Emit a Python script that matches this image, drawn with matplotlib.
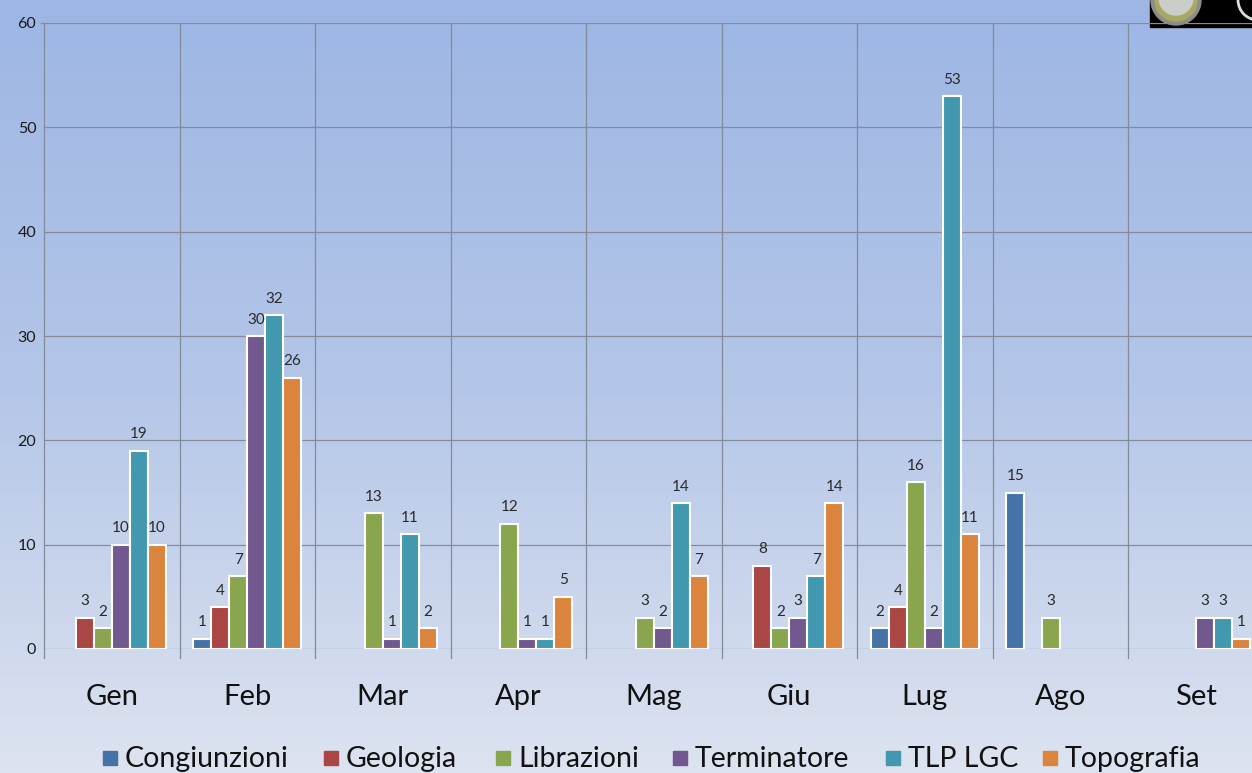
import numpy as np
import matplotlib
matplotlib.use("Agg")
import matplotlib.pyplot as plt
from matplotlib.patches import Rectangle, Ellipse
from matplotlib.colors import LinearSegmentedColormap

months = ["Gen", "Feb", "Mar", "Apr", "Mag", "Giu", "Lug", "Ago", "Set"]
series_names = ["Congiunzioni", "Geologia", "Librazioni", "Terminatore", "TLP LGC", "Topografia"]
congiunzioni = [0, 1, 0, 0, 0, 0, 2, 15, 0]
geologia     = [3, 4, 0, 0, 0, 8, 4, 0, 0]
librazioni   = [2, 7, 13, 12, 3, 2, 16, 3, 0]
terminatore  = [10, 30, 1, 1, 2, 3, 2, 0, 3]
tlp_lgc      = [19, 32, 11, 1, 14, 7, 53, 0, 3]
topografia   = [10, 26, 2, 5, 7, 14, 11, 0, 1]
colors = ["#4572A7", "#AA4643", "#89A54E", "#71588F", "#4198AF", "#DB843D"]
yticks = [0, 10, 20, 30, 40, 50, 60]

series = [congiunzioni, geologia, librazioni, terminatore, tlp_lgc, topografia]

W, H = 1252, 773
fig = plt.figure(figsize=(W / 100, H / 100), dpi=100)

# gradient background (pixel coordinates)
bg = fig.add_axes([0, 0, 1, 1], zorder=-10)
cmap = LinearSegmentedColormap.from_list("bg", ["#9DB6E4", "#B4C6E8", "#DDE3F0"])
grad = np.linspace(0, 1, 256).reshape(-1, 1)
bg.imshow(grad, aspect="auto", cmap=cmap, extent=[0, W, H, 0])
bg.set_xlim(0, W); bg.set_ylim(H, 0)
bg.axis("off")

# logo approximation (top right)
bg.add_patch(Rectangle((1150, 0), W - 1150, 27, color="black", zorder=2))
bg.add_patch(Ellipse((1176, 0), 50, 50, color="#8E8E88", zorder=3))
bg.add_patch(Ellipse((1176, 0), 42, 42, color="#A9A862", zorder=3))
bg.add_patch(Ellipse((1176, -2), 34, 34, color="#CBCDC8", zorder=4))
bg.add_patch(Ellipse((1258, 0), 40, 40, facecolor="black", edgecolor="#DDDDDD", lw=2, zorder=3))
bg.add_patch(Rectangle((1150, 27), W - 1150, 30, color="none", zorder=2))
bg.set_xlim(0, W); bg.set_ylim(H, 0)

# main axes: left edge x=44, y0 at 649, y60 at 23, category width 135.5
left_px, cat_w = 44, 135.5
ncat = len(months)
right_px = left_px + cat_w * ncat
y0_px, y60_px = 649, 23
ax = fig.add_axes([left_px / W, 1 - y0_px / H, (right_px - left_px) / W, (y0_px - y60_px) / H])
ax.set_facecolor("none")
ax.set_xlim(0, ncat)
ax.set_ylim(0, 60)

x = np.arange(ncat) + 0.5
bw = 18 / cat_w
for i, (vals, c) in enumerate(zip(series, colors)):
    offs = (i - 2.5) * bw
    v = np.array(vals, dtype=float)
    mask = v > 0
    ax.bar(x[mask] + offs, v[mask], width=bw, color=c, edgecolor="white", linewidth=1.5, zorder=3)
    for xi, vi in zip(x[mask] + offs, v[mask]):
        ax.text(xi, vi + 0.9, f"{int(vi)}", ha="center", va="bottom", fontsize=11,
                color="#2A2A2A", family="Lato", zorder=4)

# grid
for yt in yticks:
    ax.axhline(yt, color="#838B98", lw=0.9, zorder=1)
for k in range(ncat + 1):
    ax.plot([k, k], [-0.9, 60], color="#838B98", lw=0.9, zorder=1, clip_on=False)
ax.plot([-0.02, 0], [60, 60], color="#838B98", lw=0.9, clip_on=False)

for s in ax.spines.values():
    s.set_visible(False)
ax.set_xticks([])
ax.set_yticks(yticks)
ax.set_yticklabels([str(t) for t in yticks], fontsize=11.5, color="#1A1A1A", family="Lato")
ax.tick_params(axis="y", length=0, pad=5.5)

for xi, m in zip(x, months):
    ax.text(xi, -4.6, m, ha="center", va="center", fontsize=21, color="#111111",
            family="Lato", clip_on=False)

# legend
leg_items = [(103, "Congiunzioni"), (324, "Geologia"), (496, "Librazioni"),
             (673, "Terminatore"), (886, "TLP LGC"), (1043, "Topografia")]
for (px, name), c in zip(leg_items, colors):
    bg.add_patch(Rectangle((px, 751), 14, 14, color=c, zorder=5))
    bg.text(px + 22, 759, name, ha="left", va="center", fontsize=20.5,
            color="#111111", family="Lato", zorder=5)

fig.savefig("out.png", dpi=100)
